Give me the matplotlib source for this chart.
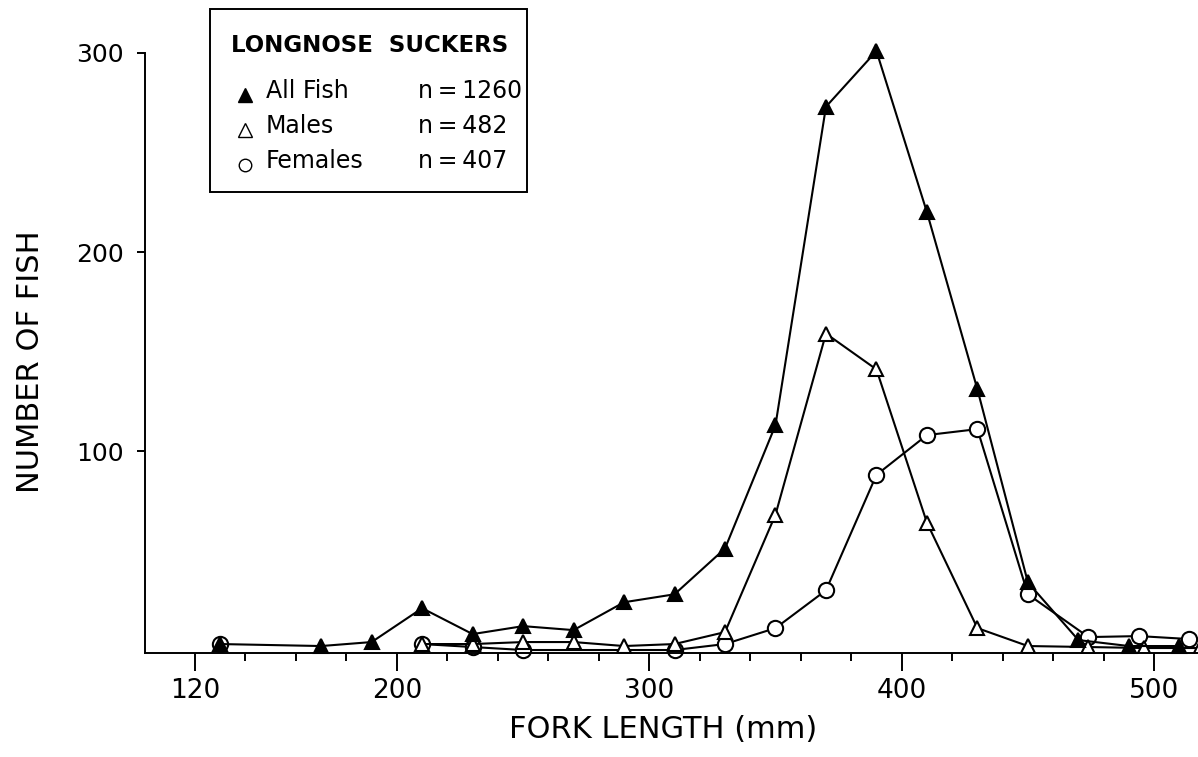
import numpy as np
import matplotlib.pyplot as plt
from matplotlib.patches import Rectangle

# fork length classes (mm) and counts per class
all_len = [130, 170, 190, 210, 230, 250, 270, 290, 310, 330, 350, 370, 390,
           410, 430, 450, 470, 490, 510]
all_n = [3, 2, 4, 21, 8, 12, 10, 24, 28, 51, 113, 273, 301,
         220, 131, 34, 5, 2, 2]

male_len = [210, 230, 250, 270, 290, 310, 330, 350, 370, 390, 410, 430,
            450, 474, 496, 518]
male_n = [3, 3, 4, 4, 2, 3, 9, 68, 159, 141, 64, 11, 2, 1.5, 1, 1]

fem_len = [130, 210, 230, 250, 310, 330, 350, 370, 390, 410, 430, 450,
           474, 494, 514]
fem_n = [3, 3, 1.5, 0, 0, 3, 11, 30, 88, 108, 111, 28, 6.5, 7, 5.5]

legend_rows = [("All Fish", "n\u2009=\u20091260"), ("Males", "n\u2009=\u2009482"),
               ("Females", "n\u2009=\u2009407")]

plt.rcParams['font.family'] = ['DejaVu Sans']

W, H = 1198, 757
fig = plt.figure(figsize=(W/100, H/100), dpi=100)
ax = fig.add_axes([145/W, 104/H, 1053/W, 600/H])

lw = 1.5
# lone female at 130 is not joined to the rest of the series
ax.plot(fem_len[:1], fem_n[:1], 'o', ms=11, mfc='white', mec='black', mew=lw, clip_on=False)
ax.plot(fem_len[1:], fem_n[1:], '-o', color='black', lw=lw, ms=11, mfc='white',
        mec='black', mew=lw, clip_on=False)
ax.plot(male_len, male_n, '-^', color='black', lw=lw, ms=10, mfc='white',
        mec='black', mew=lw)
ax.plot(all_len, all_n, '-^', color='black', lw=lw, ms=10, mfc='black',
        mec='black', mew=lw, clip_on=False)

ax.set_xlim(100.2, 517.4)
ax.set_ylim(-1.5, 300)

ax.set_xticks([120, 200, 300, 400, 500])
ax.set_xticks(np.arange(140, 500, 20), minor=True)
ax.set_yticks([100, 200, 300])
ax.tick_params(axis='x', which='major', length=13, width=1.4, pad=5, labelsize=19)
ax.tick_params(axis='x', which='minor', length=6, width=1.4)
ax.tick_params(axis='y', length=6, width=1.4, pad=9, labelsize=18)

for s in ['top', 'right']:
    ax.spines[s].set_visible(False)
for s in ['left', 'bottom']:
    ax.spines[s].set_linewidth(1.4)

fig.text(663/W, 1 - 729/H, "FORK LENGTH (mm)", ha='center', va='center', fontsize=22)
fig.text(31/W, 1 - 362/H, "NUMBER OF FISH", ha='center', va='center',
         rotation=90, fontsize=22)

# legend box drawn by hand so the n column lines up
fig.patches.append(Rectangle((210/W, 1 - 192/H), 317/W, 183/H,
                             transform=fig.transFigure, fill=False, lw=1.4,
                             edgecolor='black'))
fig.text(231/W, 1 - 45/H, "LONGNOSE  SUCKERS", ha='left', va='center',
         fontsize=16.5, fontweight='bold')
styles = [dict(marker='^', mfc='black', ms=10), dict(marker='^', mfc='white', ms=10),
          dict(marker='o', mfc='white', ms=9)]
for i, ((name, n), st) in enumerate(zip(legend_rows, styles)):
    yy = 1 - (91 + 35*i)/H
    fig.lines.append(plt.Line2D([245/W], [yy - 4/H], transform=fig.transFigure,
                                mec='black', mew=1.0, ls='none', **st))
    fig.text(266/W, yy, name, ha='left', va='center', fontsize=17)
    fig.text(418/W, yy, n, ha='left', va='center', fontsize=17)

fig.savefig('out.png', dpi=100)
